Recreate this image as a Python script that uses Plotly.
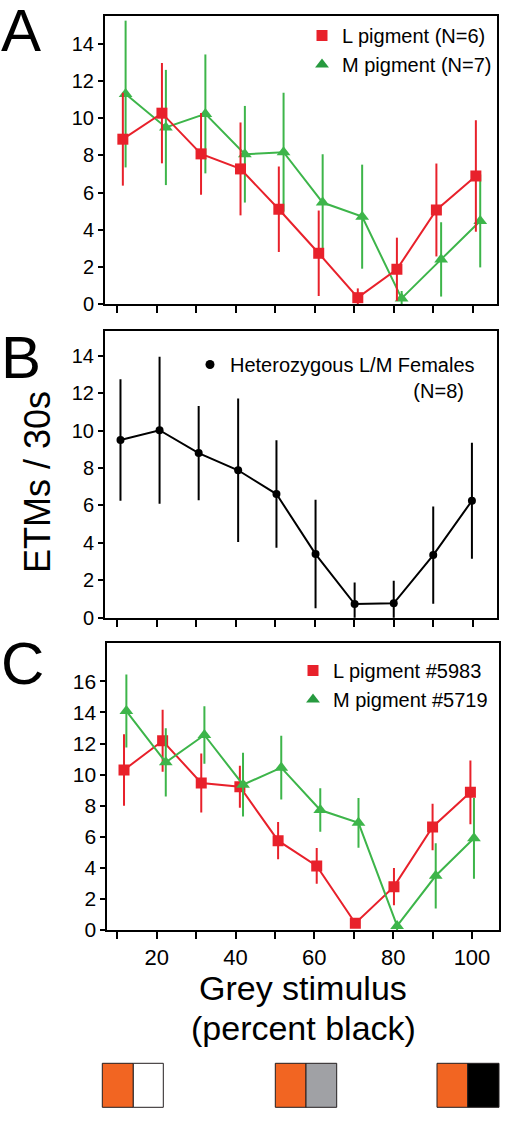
import plotly.graph_objects as go

W, H = 523, 1121

# ---------------- data ----------------
# Panel A
A_L_x = [11.4, 21.3, 31.2, 41.2, 50.9, 61.0, 70.9, 80.8, 90.8, 100.8]
A_L_y = [8.87, 10.27, 8.08, 7.27, 5.10, 2.73, 0.34, 1.87, 5.06, 6.89]
A_L_err = [2.5, 2.7, 2.2, 2.5, 2.3, 2.3, 0.5, 1.7, 2.5, 3.0]
A_M_x = [12.1, 22.3, 32.3, 42.3, 52.1, 62.0, 72.0, 82.0, 92.0, 101.9]
A_M_y = [11.3, 9.5, 10.23, 8.06, 8.17, 5.46, 4.7, 0.3, 2.4, 4.47]
A_M_err = [3.95, 3.1, 3.2, 2.6, 3.2, 2.6, 2.8, 0.4, 2.0, 2.5]

# Panel B
B_x = [10.8, 20.7, 30.6, 40.6, 50.3, 60.2, 70.1, 80.0, 90.0, 99.8]
B_y = [9.5, 10.02, 8.8, 7.88, 6.61, 3.4, 0.73, 0.77, 3.35, 6.25]
B_err = [3.25, 3.93, 2.52, 3.83, 2.87, 2.9, 1.15, 1.2, 2.6, 3.1]

# Panel C
C_L_x = [11.7, 21.5, 31.3, 41.1, 50.8, 60.6, 70.4, 80.2, 90.0, 99.6]
C_L_y = [10.3, 12.18, 9.46, 9.22, 5.75, 4.12, 0.43, 2.79, 6.63, 8.86]
C_L_err = [2.3, 2.0, 1.9, 1.35, 1.2, 1.15, 0.3, 1.2, 1.5, 2.05]
C_M_x = [12.3, 22.3, 32.1, 41.9, 51.6, 61.5, 71.2, 81.0, 90.8, 100.5]
C_M_y = [14.09, 10.79, 12.55, 9.35, 10.45, 7.72, 6.9, 0.26, 3.49, 5.9]
C_M_err = [2.35, 2.2, 1.85, 2.05, 2.05, 1.4, 1.6, 0.3, 2.1, 2.6]

# Names / labels
A_L_name = "L pigment (N=6)"
A_M_name = "M pigment (N=7)"
B_name = "Heterozygous L/M Females<br>" + "\u00a0" * 33 + "(N=8)"
C_L_name = "L pigment #5983"
C_M_name = "M pigment #5719"
panel_letters = ["A", "B", "C"]
x_tickvals = [10, 20, 30, 40, 50, 60, 70, 80, 90, 100]
x_ticktext = ["", "20", "", "40", "", "60", "", "80", "", "100"]
y_tickvals_AB = [0, 2, 4, 6, 8, 10, 12, 14]
y_tickvals_C = [0, 2, 4, 6, 8, 10, 12, 14, 16]
y_title = "ETMs / 30s"
x_title_lines = ["Grey stimulus", "(percent black)"]
stim_colors = [("#f26522", "#ffffff"), ("#f26522", "#a0a1a5"), ("#f26522", "#000000")]

# ---------------- styles ----------------
RED = "#e8212b"
GREEN = "#3db54a"
GREEN_LEG = "#279a3f"
BLACK = "#000000"
FONT = "Arial, Liberation Sans, sans-serif"


def px(p):
    return p / W


def py(p):
    return 1 - p / H


fig = go.Figure()


def series(x, y, err, color, symbol, size, xa, ya):
    fig.add_trace(go.Scatter(
        x=x, y=y, mode="lines+markers", xaxis=xa, yaxis=ya,
        line=dict(color=color, width=2),
        marker=dict(color=color, symbol=symbol, size=size, line=dict(width=0)),
        error_y=dict(type="data", array=err, color=color, thickness=2, width=0),
        showlegend=False, hoverinfo="x+y",
    ))


def legend_entry(name, color, symbol, size, legend, xa, ya):
    fig.add_trace(go.Scatter(
        x=[None], y=[None], mode="markers", xaxis=xa, yaxis=ya,
        marker=dict(color=color, symbol=symbol, size=size),
        name=name, legend=legend, showlegend=True,
    ))


# Panel A (green under red)
series(A_M_x, A_M_y, A_M_err, GREEN, "triangle-up", 12, "x", "y")
series(A_L_x, A_L_y, A_L_err, RED, "square", 11, "x", "y")
# Panel B
series(B_x, B_y, B_err, BLACK, "circle", 8, "x2", "y2")
# Panel C (red under green)
series(C_L_x, C_L_y, C_L_err, RED, "square", 11, "x3", "y3")
series(C_M_x, C_M_y, C_M_err, GREEN, "triangle-up", 12, "x3", "y3")

legend_entry(A_L_name, RED, "square", 11, "legend", "x", "y")
legend_entry(A_M_name, GREEN_LEG, "triangle-up", 12, "legend", "x", "y")
legend_entry(B_name, BLACK, "circle", 9, "legend2", "x2", "y2")
legend_entry(C_L_name, RED, "square", 11, "legend3", "x3", "y3")
legend_entry(C_M_name, GREEN_LEG, "triangle-up", 12, "legend3", "x3", "y3")


def xaxis(domain_px, rng, labels, anchor):
    return dict(
        domain=[px(domain_px[0]), px(domain_px[1])], range=rng, anchor=anchor,
        showline=True, linecolor="black", linewidth=2, mirror=True,
        ticks="outside", ticklen=7, tickwidth=1.5, tickcolor="black",
        tickvals=x_tickvals, ticktext=labels if labels else [""] * len(x_tickvals),
        showgrid=False, zeroline=False, automargin=False,
        tickfont=dict(family=FONT, size=22, color="black"),
    )


def yaxis(domain_px, rng, tickvals, fsize, anchor):
    return dict(
        domain=[py(domain_px[1]), py(domain_px[0])], range=rng, anchor=anchor,
        showline=True, linecolor="black", linewidth=2, mirror=True,
        ticks="outside", ticklen=5, tickwidth=1.5, tickcolor="black",
        tickvals=tickvals, showgrid=False, zeroline=False, automargin=False,
        tickfont=dict(family=FONT, size=fsize, color="black"),
    )


legend_common = dict(
    bgcolor="rgba(0,0,0,0)", borderwidth=0,
    font=dict(family=FONT, size=20, color="black"),
    xanchor="left", yanchor="top", traceorder="normal",
)

fig.update_layout(
    template="none",
    width=W, height=H,
    margin=dict(l=0, r=0, t=0, b=0, pad=0, autoexpand=False),
    paper_bgcolor="white", plot_bgcolor="white",
    font=dict(family=FONT, color="black"),
    xaxis=xaxis((105, 497), [6.88, 106.15], None, "y"),
    yaxis=yaxis((16, 304), [0, 15.5], y_tickvals_AB, 20, "x"),
    xaxis2=xaxis((105, 497), [6.88, 106.15], None, "y2"),
    yaxis2=yaxis((330.7, 617.7), [0, 15.34], y_tickvals_AB, 20, "x2"),
    xaxis3=xaxis((107.3, 499.3), [7.46, 106.93], x_ticktext, "y3"),
    yaxis3=yaxis((642.7, 930), [0, 18.49], y_tickvals_C, 21, "x3"),
    legend=dict(x=px(302), y=py(16), **legend_common),
    legend2=dict(x=px(190), y=py(345), valign="top", **legend_common),
    legend3=dict(x=px(293), y=py(651), **legend_common),
    showlegend=True,
)

# Panel letters
letter_pos = [(21, 31), (21, 357), (22, 663)]
for letter, (lx, ly) in zip(panel_letters, letter_pos):
    fig.add_annotation(text=letter, x=px(lx), y=py(ly), xref="paper", yref="paper",
                       xanchor="center", yanchor="middle", showarrow=False,
                       font=dict(family=FONT, size=60, color="black"))

# Y title
fig.add_annotation(text=y_title, x=px(38), y=py(482), xref="paper", yref="paper",
                   xanchor="center", yanchor="middle", showarrow=False, textangle=-90,
                   font=dict(family=FONT, size=36, color="black"))

# X title (two lines)
for line, ly in zip(x_title_lines, [988, 1028]):
    fig.add_annotation(text=line, x=px(303), y=py(ly), xref="paper", yref="paper",
                       xanchor="center", yanchor="middle", showarrow=False,
                       font=dict(family=FONT, size=34, color="black"))

# Stimulus swatches
swatch_px = [(102.3, 133.3, 163.3), (275.3, 306.0, 336.7), (437.0, 467.7, 499.0)]
for (x0, xm, x1), (c_left, c_right) in zip(swatch_px, stim_colors):
    for a, b, c in [(x0, xm, c_left), (xm, x1, c_right)]:
        fig.add_shape(type="rect", xref="paper", yref="paper",
                      x0=px(a), x1=px(b), y0=py(1107.3), y1=py(1063.3),
                      fillcolor=c, line=dict(color="#231f20", width=1))

# remove the browser's default 8px body margin so the figure sits at the page origin
fig.write_html("out.html",
               config={"displayModeBar": False},
               post_script="document.body.style.margin='0';document.body.style.padding='0';")
